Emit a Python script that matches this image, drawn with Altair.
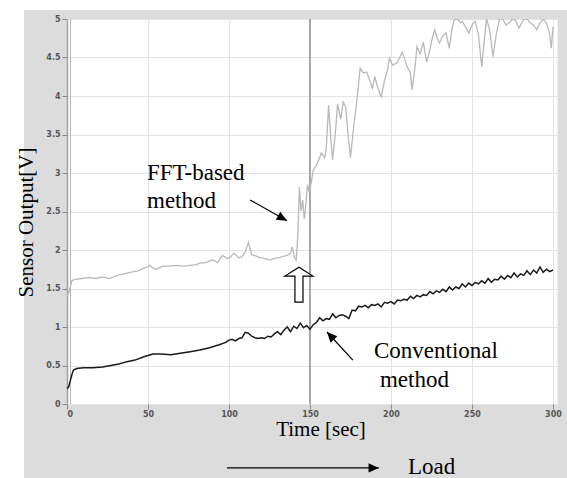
import altair as alt
import pandas as pd

# ---------------- data ----------------
fft_t = [0, 1, 2, 3, 5, 9, 14, 18, 22, 26, 30, 33, 37, 41, 44, 47, 50, 51, 53, 55,
         59, 63, 68, 72, 76, 80, 82, 86, 90, 93, 96, 99, 101, 103, 106, 108, 110, 112,
         114, 117, 119, 122, 125, 128, 131, 134, 136, 138, 139, 140.5, 141.5, 142.5,
         143.5, 144.5, 145.5, 146.5, 147.5, 148.5, 149.5, 151, 152, 154, 156, 157, 159,
         160, 161.5, 163, 164, 166, 167, 169, 170.5, 172, 173.5, 175, 177, 179, 181,
         183, 185, 187, 188.5, 190, 192, 194, 196, 198, 199, 201, 204, 207, 209, 210,
         212, 213, 215, 216, 218, 220, 222, 224, 225.5, 227, 228.5, 230, 232, 234, 236,
         237.5, 239, 241, 243, 244, 246, 248, 250, 252, 254, 256, 257.5, 259, 261, 263,
         265, 267, 269, 271, 273, 275, 277, 279, 280, 282, 284, 286, 288, 290, 292, 294,
         296, 298, 299, 300]
fft_v = [1.40, 1.44, 1.52, 1.60, 1.62, 1.63, 1.64, 1.63, 1.65, 1.63, 1.66, 1.68, 1.70,
         1.72, 1.73, 1.76, 1.78, 1.80, 1.77, 1.75, 1.79, 1.79, 1.80, 1.79, 1.80, 1.81,
         1.83, 1.84, 1.87, 1.84, 1.93, 1.89, 1.91, 1.96, 1.90, 1.91, 1.97, 2.10, 1.94,
         1.92, 1.90, 1.89, 1.87, 1.89, 1.90, 1.92, 1.93, 1.96, 2.04, 1.90, 1.87, 2.20,
         2.82, 2.50, 2.65, 2.40, 2.60, 2.85, 2.75, 2.90, 3.04, 3.10, 3.20, 3.26, 3.20,
         3.30, 3.88, 3.40, 3.17, 3.60, 3.90, 3.70, 3.92, 3.86, 3.50, 3.20, 3.60, 3.95,
         4.36, 4.30, 4.31, 4.20, 4.10, 4.25, 4.10, 3.99, 4.20, 4.35, 4.49, 4.40, 4.44,
         4.57, 4.45, 4.38, 4.30, 4.08, 4.40, 4.64, 4.55, 4.70, 4.44, 4.60, 4.75, 4.86,
         4.75, 4.69, 4.78, 4.82, 4.62, 4.85, 4.99, 5.00, 4.95, 4.97, 4.90, 4.82, 4.92,
         4.97, 4.80, 4.38, 4.70, 5.00, 4.85, 4.51, 4.80, 5.00, 5.00, 4.92, 4.95, 5.00,
         4.98, 4.88, 4.92, 5.00, 5.00, 4.95, 4.92, 4.86, 4.95, 5.00, 4.95, 4.80, 4.62,
         4.90]

conv_t = [0, 1, 2, 3, 4, 6, 10, 16, 22, 27, 32, 37, 42, 47, 50, 53, 58, 64, 70, 76,
          82, 88, 94, 98] + list(range(100, 301, 2))
conv_v = [0.20, 0.22, 0.30, 0.38, 0.44, 0.46, 0.47, 0.47, 0.48, 0.50, 0.52, 0.55, 0.57,
          0.61, 0.63, 0.65, 0.65, 0.64, 0.66, 0.68, 0.70, 0.73, 0.77, 0.80,
          0.83, 0.84, 0.82, 0.85, 0.86, 0.93, 0.92, 0.88, 0.86, 0.85, 0.86, 0.85, 0.88,
          0.87, 0.91, 0.94, 0.90, 0.96, 1.00, 0.94, 1.01, 0.98, 1.05, 0.99, 1.02, 0.97,
          1.03, 1.06, 1.12, 1.08, 1.11, 1.10, 1.17, 1.12, 1.15, 1.16, 1.14, 1.11, 1.22,
          1.21, 1.27, 1.26, 1.28, 1.25, 1.29, 1.28, 1.30, 1.26, 1.32, 1.31, 1.33, 1.30,
          1.35, 1.34, 1.36, 1.35, 1.40, 1.37, 1.41, 1.39, 1.42, 1.41, 1.46, 1.43, 1.47,
          1.45, 1.49, 1.46, 1.52, 1.48, 1.52, 1.50, 1.56, 1.52, 1.57, 1.54, 1.58, 1.56,
          1.60, 1.57, 1.63, 1.58, 1.62, 1.61, 1.66, 1.62, 1.67, 1.64, 1.70, 1.65, 1.69,
          1.67, 1.73, 1.68, 1.74, 1.70, 1.78, 1.71, 1.75, 1.72, 1.74]

x_ticks = [0, 50, 100, 150, 200, 250, 300]
y_ticks = [0, 0.5, 1, 1.5, 2, 2.5, 3, 3.5, 4, 4.5, 5]
marker_time = 150

# annotation texts (data coordinates)
note_text = ["FFT-based", "method", "Conventional", "method", "Load"]
note_t = [49.4, 49.4, 189.5, 193.2, 210.5]
note_v = [2.91, 2.545, 0.597, 0.22, -0.909]

# annotation arrows: tail -> tip
arr_t0 = [113.0, 176.5, 98.8]
arr_v0 = [2.65, 0.57, -0.83]
arr_t1 = [135.8, 160.5, 192.5]
arr_v1 = [2.38, 0.935, -0.83]
arr_ang = [119.6, 317.0, 90.0]

# hollow "onset" arrow
onset_t = [143.2]
onset_v = [1.55]

W, H = 490, 385
XDOM = [0, 302.5]
YDOM = [0, 5]

fft = pd.DataFrame({"t": fft_t, "v": fft_v})
conv = pd.DataFrame({"t": conv_t, "v": conv_v})
notes = pd.DataFrame({"t": note_t, "v": note_v, "label": note_text})
arrows = pd.DataFrame({"t0": arr_t0, "v0": arr_v0, "t1": arr_t1, "v1": arr_v1, "ang": arr_ang})
onset = pd.DataFrame({"t": onset_t, "v": onset_v})
titles = pd.DataFrame({"t": [156.8], "v": [-0.42], "label": ["Time [sec]"]})
ytitle = pd.DataFrame({"t": [-21.0], "v": [2.357], "label": ["Sensor Output[V]"]})

xs = alt.Scale(domain=XDOM, nice=False, zero=False)
ys = alt.Scale(domain=YDOM, nice=False, zero=False)

x_axis = alt.Axis(values=x_ticks, title=None, grid=True, gridColor="#e4e4e4",
                  domain=False, ticks=True, tickSize=5, tickColor="#888",
                  labelFont="DejaVu Sans", labelFontSize=8, labelColor="#555",
                  labelFontWeight="bold", labelPadding=1, labelOverlap=False,
                  labelExpr="datum.value + ''")
y_axis = alt.Axis(values=y_ticks, title=None, grid=True, gridColor="#e4e4e4",
                  domain=True, domainColor="#a0a0a0", domainWidth=1.5,
                  ticks=True, tickSize=5, tickColor="#888",
                  labelFont="DejaVu Sans", labelFontSize=8, labelColor="#555",
                  labelFontWeight="bold", labelPadding=2, labelOverlap=False,
                  labelExpr="datum.value + ''")


def X(field):
    return alt.X(field, scale=xs, axis=x_axis)


def Y(field):
    return alt.Y(field, scale=ys, axis=y_axis)


base_pd = pd.DataFrame({"k": [0]})

axes_layer = alt.Chart(conv).mark_line(opacity=0).encode(x=X("t:Q"), y=Y("v:Q"))

# white margins outside the grey panel
margins = alt.Chart(pd.DataFrame({"px": [-67, -67, -67], "px2": [W + 10, -43, -67],
                                  "py": [-19, -19, H + 34], "py2": [-9, H + 74, H + 74]})).mark_rect(
    color="white").encode(
    x=alt.X("px:Q", scale=None, axis=None), x2="px2:Q",
    y=alt.Y("py:Q", scale=None, axis=None), y2="py2:Q")

inner_frame = alt.Chart(base_pd).mark_rule(color="#b4b4b4", strokeWidth=1).encode(
    x=alt.value(3.5), y=alt.value(0), y2=alt.value(H))

marker = alt.Chart(base_pd).mark_rule(color="#a6a6a6", strokeWidth=2).encode(
    x=alt.datum(marker_time, scale=xs, axis=x_axis))

fft_line = alt.Chart(fft).mark_line(color="#b9b9b9", strokeWidth=1.3, clip=True).encode(
    x=X("t:Q"), y=Y("v:Q"))
conv_line = alt.Chart(conv).mark_line(color="#1a1a1a", strokeWidth=1.5).encode(
    x=X("t:Q"), y=Y("v:Q"))

onset_arrow = alt.Chart(onset).mark_point(
    shape="M0,-1 L0.8,-0.49 L0.23,-0.49 L0.23,1 L-0.23,1 L-0.23,-0.49 L-0.8,-0.49 Z",
    size=1225, filled=True, fill="white", stroke="black", strokeWidth=1.2, opacity=1).encode(
    x=X("t:Q"), y=Y("v:Q"))

arrow_lines = alt.Chart(arrows).mark_rule(color="black", strokeWidth=1.2).encode(
    x=X("t0:Q"), y=Y("v0:Q"), x2="t1:Q", y2="v1:Q")
arrow_heads = alt.Chart(arrows).mark_point(
    shape="M0,0 L0.45,1 L-0.45,1 Z", size=420, filled=True, color="black", opacity=1).encode(
    x=X("t1:Q"), y=Y("v1:Q"), angle=alt.Angle("ang:Q", scale=None))

note_marks = alt.Chart(notes).mark_text(
    align="left", baseline="alphabetic", font="Liberation Serif", fontSize=23, color="black").encode(
    x=X("t:Q"), y=Y("v:Q"), text="label:N")

xtitle_mark = alt.Chart(titles).mark_text(
    align="center", baseline="alphabetic", font="Liberation Serif", fontSize=21, color="black").encode(
    x=X("t:Q"), y=Y("v:Q"), text="label:N")

ytitle_mark = alt.Chart(ytitle).mark_text(
    align="center", baseline="alphabetic", angle=270, font="Liberation Serif", fontSize=21,
    color="black").encode(
    x=X("t:Q"), y=Y("v:Q"), text="label:N")

chart = alt.layer(
    axes_layer, margins, inner_frame, marker, fft_line, conv_line, onset_arrow,
    arrow_lines, arrow_heads, note_marks, xtitle_mark, ytitle_mark
).properties(
    width=W, height=H,
    autosize=alt.AutoSizeParams(type="none"),
    padding={"left": 67, "top": 19, "right": 10, "bottom": 74},
    background="#dcdcdc",
).configure_view(fill="white", stroke="transparent")

chart.save("out.html", embed_options={"renderer": "svg", "actions": False})
